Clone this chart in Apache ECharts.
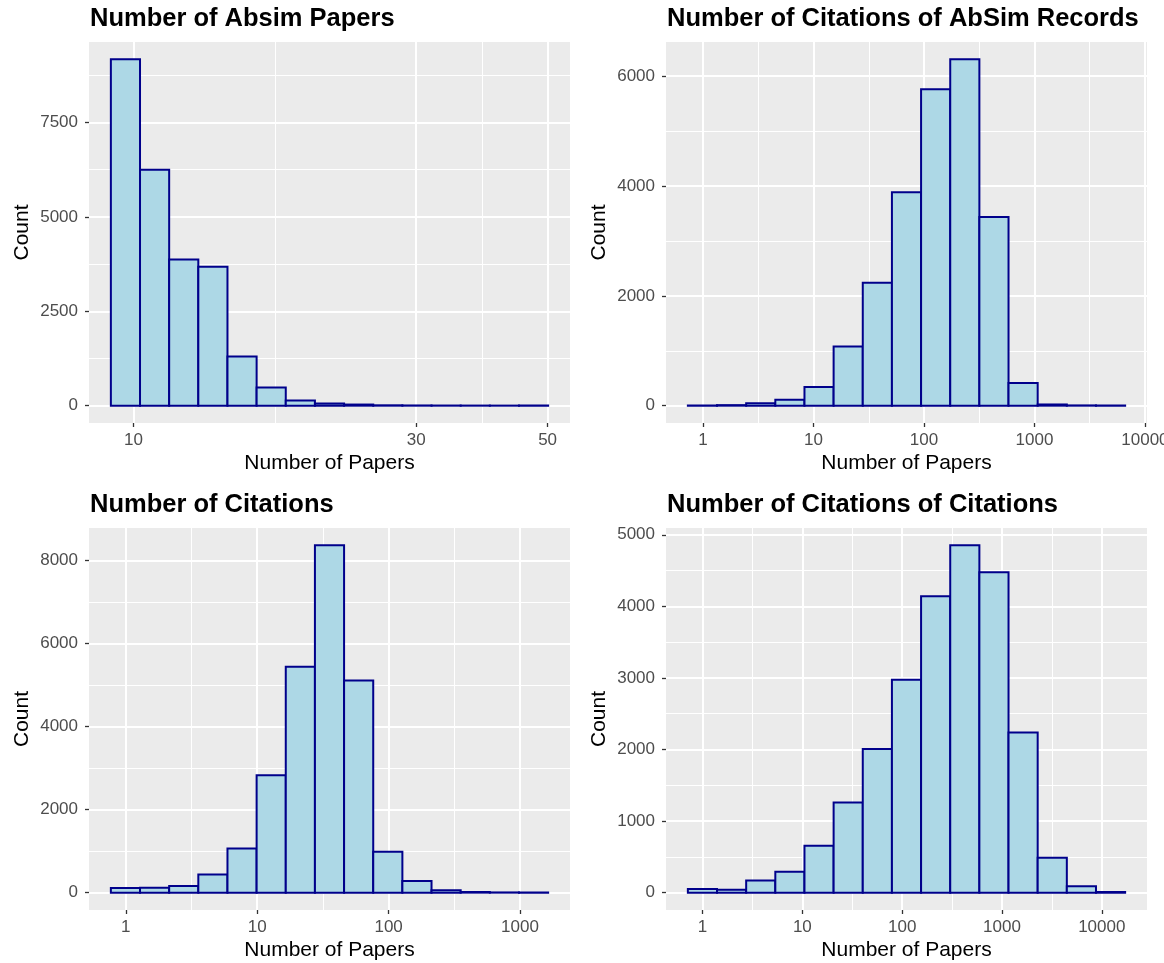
<!DOCTYPE html>
<html>
<head>
<meta charset="utf-8">
<script src="https://cdn.jsdelivr.net/npm/echarts@6/dist/echarts.min.js"></script>
<style>
html,body{margin:0;padding:0;background:#ffffff;}
#chart{width:1164px;height:963px;}
</style>
</head>
<body>
<div id="chart"></div>
<script>
// ---------------- data ----------------
const xAxisTitle = 'Number of Papers';
const yAxisTitle = 'Count';

const absimTitle = 'Number of Absim Papers';
const absimBinRange = [9.16, 50.1];            // lowest and highest bin edge (log-spaced bins)
const absimCounts = [9170, 6245, 3873, 3679, 1299, 480, 140, 60, 30, 10, 6, 4, 3, 2, 2];
const absimXTicks = [10, 30, 50];
const absimYTicks = [0, 2500, 5000, 7500];

const absimCitTitle = 'Number of Citations of AbSim Records';
const absimCitBinRange = [0.728, 6622];
const absimCitCounts = [3, 10, 45, 109, 340, 1080, 2240, 3885, 5764, 6308, 3437, 412, 22, 5, 3];
const absimCitXTicks = [1, 10, 100, 1000, 10000];
const absimCitYTicks = [0, 2000, 4000, 6000];

const citTitle = 'Number of Citations';
const citBinRange = [0.769, 1637];
const citCounts = [111, 115, 160, 440, 1066, 2829, 5443, 8370, 5114, 986, 281, 55, 15, 5, 3];
const citXTicks = [1, 10, 100, 1000];
const citYTicks = [0, 2000, 4000, 6000, 8000];

const citCitTitle = 'Number of Citations of Citations';
const citCitBinRange = [0.713, 17140];
const citCitCounts = [50, 40, 168, 292, 655, 1259, 2007, 2974, 4141, 4852, 4475, 2239, 488, 90, 10];
const citCitXTicks = [1, 10, 100, 1000, 10000];
const citCitYTicks = [0, 1000, 2000, 3000, 4000, 5000];

// ---------------- layout ----------------
const FONT = '"Liberation Sans", Arial, Helvetica, sans-serif';
const panels = [
  {title: absimTitle, range: absimBinRange, counts: absimCounts, xt: absimXTicks, yt: absimYTicks,
   titleTop: 6, grid: {left: 89, top: 42, width: 481, height: 381}},
  {title: absimCitTitle, range: absimCitBinRange, counts: absimCitCounts, xt: absimCitXTicks, yt: absimCitYTicks,
   titleTop: 6, grid: {left: 666, top: 42, width: 481, height: 381}},
  {title: citTitle, range: citBinRange, counts: citCounts, xt: citXTicks, yt: citYTicks,
   titleTop: 492, grid: {left: 89, top: 528, width: 481, height: 382}},
  {title: citCitTitle, range: citCitBinRange, counts: citCitCounts, xt: citCitXTicks, yt: citCitYTicks,
   titleTop: 492, grid: {left: 666, top: 528, width: 481, height: 382}}
];

const L = Math.log10;

function minorBetween(majors, lo, hi) {
  // ggplot-style minor breaks: midpoints between (extended) major breaks
  const m = majors;
  const ext = [m[0] - (m[1] - m[0])].concat(m, [m[m.length - 1] + (m[m.length - 1] - m[m.length - 2])]);
  const out = [];
  for (let i = 0; i < ext.length - 1; i++) {
    const v = (ext[i] + ext[i + 1]) / 2;
    if (v > lo && v < hi) out.push(v);
  }
  return out;
}

const grids = [], xAxes = [], yAxes = [], series = [], titles = [];

panels.forEach((p, i) => {
  const nb = p.counts.length;
  const lo = L(p.range[0]), hi = L(p.range[1]);
  const w = (hi - lo) / nb;
  const xmin = lo - 0.05 * (hi - lo), xmax = hi + 0.05 * (hi - lo);
  const cmax = Math.max.apply(null, p.counts);
  const ymin = -0.05 * cmax, ymax = 1.05 * cmax;
  const xtl = p.xt.map(L);
  const xMinor = minorBetween(xtl, xmin, xmax);
  const yMinor = minorBetween(p.yt, ymin, ymax);

  grids.push(Object.assign({show: true, backgroundColor: '#EBEBEB', borderWidth: 0, outerBoundsMode: 'none', containLabel: false}, p.grid));

  titles.push({
    text: p.title, left: p.grid.left + 1, top: p.titleTop, padding: 0,
    textStyle: {fontFamily: FONT, fontSize: 25.5, fontWeight: 'bold', color: '#000'}
  });

  // major x axis
  xAxes.push({
    type: 'value', gridIndex: i, min: xmin, max: xmax, position: 'bottom',
    axisLine: {show: false, onZero: false},
    axisTick: {show: true, length: 4, lineStyle: {color: '#333333', width: 1.3}, customValues: xtl},
    axisLabel: {customValues: xtl, color: '#4D4D4D', fontSize: 17, fontFamily: FONT, margin: 9,
      formatter: v => String(Math.round(Math.pow(10, v)))},
    splitLine: {show: true, lineStyle: {color: '#FFFFFF', width: 2}},
    name: xAxisTitle, nameLocation: 'middle', nameGap: 30,
    nameTextStyle: {fontFamily: FONT, fontSize: 21, color: '#000'}
  });
  // minor x grid
  xAxes.push({
    type: 'value', gridIndex: i, min: xmin, max: xmax, position: 'top',
    axisLine: {show: false, onZero: false}, axisTick: {show: false, customValues: xMinor}, axisLabel: {show: false},
    splitLine: {show: true, lineStyle: {color: '#FFFFFF', width: 1}}
  });
  // major y axis
  yAxes.push({
    type: 'value', gridIndex: i, min: ymin, max: ymax, position: 'left',
    axisLine: {show: false, onZero: false},
    axisTick: {show: true, length: 4, lineStyle: {color: '#333333', width: 1.3}, customValues: p.yt},
    axisLabel: {customValues: p.yt, color: '#4D4D4D', fontSize: 17, fontFamily: FONT, margin: 11,
      formatter: v => String(v)},
    splitLine: {show: true, lineStyle: {color: '#FFFFFF', width: 2}},
    name: yAxisTitle, nameLocation: 'middle', nameGap: 56, nameRotate: 90,
    nameTextStyle: {fontFamily: FONT, fontSize: 21, color: '#000'}
  });
  // minor y grid
  yAxes.push({
    type: 'value', gridIndex: i, min: ymin, max: ymax, position: 'right',
    axisLine: {show: false, onZero: false}, axisTick: {show: false, customValues: yMinor}, axisLabel: {show: false},
    splitLine: {show: true, lineStyle: {color: '#FFFFFF', width: 1}}
  });

  const data = p.counts.map((c, k) => [lo + k * w, lo + (k + 1) * w, c]);
  series.push({
    type: 'custom', xAxisIndex: 2 * i, yAxisIndex: 2 * i, data: data,
    encode: {x: [0, 1], y: 2}, silent: true, animation: false,
    renderItem: function (params, api) {
      const a = api.coord([api.value(0), api.value(2)]);
      const b = api.coord([api.value(1), 0]);
      return {
        type: 'rect',
        shape: {x: a[0], y: a[1], width: b[0] - a[0], height: b[1] - a[1]},
        style: {fill: '#ADD8E6', stroke: '#00008B', lineWidth: 2}
      };
    }
  });
});

const chart = echarts.init(document.getElementById('chart'), null, {renderer: 'canvas'});
chart.setOption({
  animation: false,
  backgroundColor: '#FFFFFF',
  title: titles,
  grid: grids,
  xAxis: xAxes,
  yAxis: yAxes,
  series: series
});
</script>
</body>
</html>
